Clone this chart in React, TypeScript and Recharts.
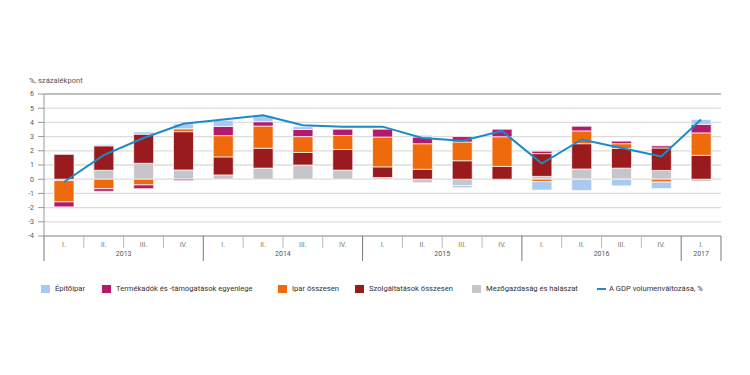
import React from 'react';
import { ComposedChart, Bar, Line, XAxis, YAxis, CartesianGrid, ReferenceLine } from 'recharts';

const quarters = ['I.', 'II.', 'III.', 'IV.', 'I.', 'II.', 'III.', 'IV.', 'I.', 'II.', 'III.', 'IV.', 'I.', 'II.', 'III.', 'IV.', 'I.'];
const years = ['2013', '2013', '2013', '2013', '2014', '2014', '2014', '2014', '2015', '2015', '2015', '2015', '2016', '2016', '2016', '2016', '2017'];

// százalékpontos hozzájárulások
const mezogazdasag = [-0.1, 0.63, 1.12, 0.65, 0.3, 0.78, 1.0, 0.64, 0.12, -0.25, -0.45, 0, 0.2, 0.72, 0.78, 0.62, -0.15];
const szolgaltatasok = [1.75, 1.72, 2.05, 2.7, 1.27, 1.4, 0.88, 1.45, 0.75, 0.7, 1.3, 0.9, 1.6, 1.78, 1.39, 1.58, 1.68];
const ipar = [-1.5, -0.67, -0.4, 0.2, 1.5, 1.56, 1.12, 0.99, 2.1, 1.8, 1.32, 2.09, -0.17, 0.9, 0.33, -0.2, 1.58];
const termekadok = [-0.35, -0.18, -0.27, -0.1, 0.65, 0.31, 0.5, 0.44, 0.55, 0.47, 0.38, 0.53, 0.17, 0.33, 0.18, 0.15, 0.6];
const epitoipar = [0, 0.1, 0.16, 0.35, 0.43, 0.41, 0.2, 0, 0, 0.13, -0.15, 0, -0.6, -0.8, -0.47, -0.46, 0.34];
const gdp = [-0.2, 1.7, 2.9, 3.9, 4.2, 4.5, 3.8, 3.7, 3.7, 2.9, 2.7, 3.4, 1.1, 2.8, 2.2, 1.6, 4.2];

const yTicks = [-4, -3, -2, -1, 0, 1, 2, 3, 4, 5, 6];

const data = quarters.map((q, i) => ({
  idx: i,
  mezo: mezogazdasag[i],
  szolg: szolgaltatasok[i],
  ipar: ipar[i],
  termek: termekadok[i],
  epito: epitoipar[i],
  gdp: gdp[i],
}));

const W = 750;
const H = 375;
const LEFT = 44;
const RIGHT = 29;
const BW = (W - LEFT - RIGHT) / quarters.length;
const FONT = 'Roboto, sans-serif';

const QuarterTick = ({ x, y, payload }: any) => {
  const i = payload.value;
  const yr = years[i];
  const first = years.indexOf(yr);
  const n = years.filter((v) => v === yr).length;
  const isYearStart = i === first;
  const isLast = i === quarters.length - 1;
  const left = x - BW / 2;
  return (
    <g>
      <text x={x} y={y + 11} textAnchor="middle" fontSize={7} fill="#777" fontFamily={FONT}>
        {quarters[i]}
      </text>
      <line x1={left} x2={left} y1={y} y2={isYearStart ? y + 25 : y + 12} stroke={isYearStart ? '#777' : '#bbb'} />
      {isLast && <line x1={x + BW / 2} x2={x + BW / 2} y1={y} y2={y + 25} stroke="#777" />}
      {isYearStart && (
        <text x={left + (n * BW) / 2} y={y + 19.5} textAnchor="middle" fontSize={7} fill="#555" fontFamily={FONT}>
          {yr}
        </text>
      )}
    </g>
  );
};

const legendItems = [
  { label: 'Építőipar', color: '#a9c9f2', x: 41 },
  { label: 'Termékadók és -támogatások egyenlege', color: '#b31a6c', x: 102 },
  { label: 'Ipar összesen', color: '#ef6a0c', x: 278 },
  { label: 'Szolgáltatások összesen', color: '#991b1e', x: 355 },
  { label: 'Mezőgazdaság és halászat', color: '#c6c6ca', x: 472 },
];

const App: React.FC = () => {
  return (
    <div style={{ position: 'absolute', left: 0, top: 0, width: W, height: H, background: '#fff', fontFamily: FONT }}>
      <div style={{ position: 'absolute', left: 29, top: 76, fontSize: 7.6, color: '#555' }}>%, százalékpont</div>
      <ComposedChart
        width={W}
        height={H}
        data={data}
        stackOffset="sign"
        margin={{ top: 94, right: RIGHT, left: 0, bottom: 109 }}
        barSize={20}
      >
        <CartesianGrid vertical={false} stroke="#dcdcdc" strokeWidth={1.3} />
        <XAxis
          dataKey="idx"
          interval={0}
          tickLine={false}
          tickSize={0}
          tickMargin={0}
          height={30}
          axisLine={{ stroke: '#999' }}
          tick={<QuarterTick />}
        />
        <YAxis
          width={LEFT}
          domain={[-4, 6]}
          ticks={yTicks}
          interval={0}
          tickSize={6}
          tickMargin={4}
          tickLine={{ stroke: '#999' }}
          axisLine={{ stroke: '#999' }}
          tick={{ fontSize: 7, fill: '#555', fontFamily: FONT }}
        />
        <YAxis yAxisId="r" orientation="right" width={0} tick={false} tickLine={false} axisLine={{ stroke: '#999' }} />
        <ReferenceLine y={6} stroke="#999" />
        <Bar dataKey="mezo" stackId="a" fill="#c6c6ca" stroke="#fff" strokeOpacity={0.7} isAnimationActive={false} />
        <Bar dataKey="szolg" stackId="a" fill="#991b1e" stroke="#fff" strokeOpacity={0.7} isAnimationActive={false} />
        <Bar dataKey="ipar" stackId="a" fill="#ef6a0c" stroke="#fff" strokeOpacity={0.7} isAnimationActive={false} />
        <Bar dataKey="termek" stackId="a" fill="#b31a6c" stroke="#fff" strokeOpacity={0.7} isAnimationActive={false} />
        <Bar dataKey="epito" stackId="a" fill="#a9c9f2" stroke="#fff" strokeOpacity={0.7} isAnimationActive={false} />
        <Line dataKey="gdp" type="linear" stroke="#1a8bc8" strokeWidth={2} dot={false} isAnimationActive={false} />
      </ComposedChart>
      {legendItems.map((it) => (
        <div key={it.label} style={{ position: 'absolute', left: it.x, top: 284, display: 'flex', alignItems: 'center', fontSize: 7.6, color: '#333' }}>
          <span style={{ display: 'inline-block', width: 9, height: 8, background: it.color, marginRight: 5 }} />
          {it.label}
        </div>
      ))}
      <div style={{ position: 'absolute', left: 597, top: 284, display: 'flex', alignItems: 'center', fontSize: 7.6, color: '#333' }}>
        <span style={{ display: 'inline-block', width: 9, height: 2, background: '#1a8bc8', marginRight: 3 }} />
        A GDP volumenváltozása, %
      </div>
    </div>
  );
};

export default App;
